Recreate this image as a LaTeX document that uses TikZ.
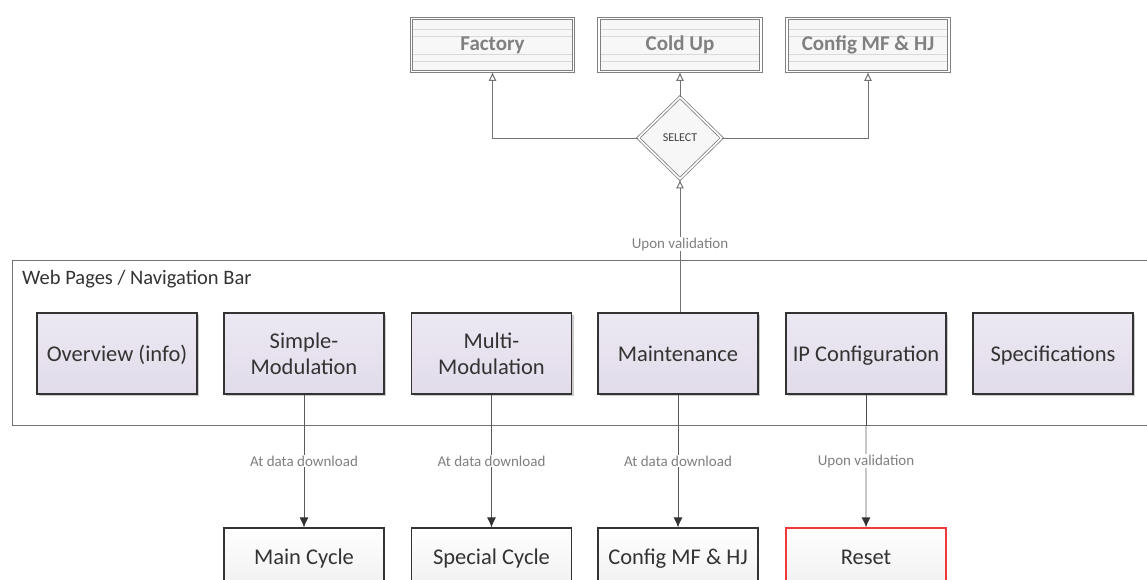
\documentclass[tikz,border=0pt]{standalone}
\usepackage{fontspec}
\setmainfont{Carlito}
\usetikzlibrary{arrows.meta,shapes.geometric,shadows,calc}
\definecolor{lav}{HTML}{E2DCEA}
\definecolor{lavtop}{HTML}{ECE8F2}
\definecolor{resetred}{HTML}{F03A3A}
\begin{document}
\begin{tikzpicture}[x=1pt,y=-1pt,
  pagebox/.style={draw=black!80, line width=1.1pt, top color=lavtop, bottom color=lav,
    minimum width=160pt, minimum height=81pt, align=center, inner sep=2pt,
    font=\fontsize{22.5}{26}\selectfont, text=black!80,
    drop shadow={shadow xshift=2pt, shadow yshift=-2pt, opacity=0.2, fill=black}},
  oneline/.style={text height=17pt, text depth=2pt},
  resbox/.style={draw=black!80, line width=1.1pt, top color=white, bottom color=black!6,
    minimum width=160pt, minimum height=62pt, align=center,
    font=\fontsize{22.5}{26}\selectfont, text=black!80, text height=15pt, text depth=5pt},
  ghostbox/.style={draw=black!50, line width=0.8pt, double=white, double distance=1.6pt, fill=black!3,
    minimum width=162pt, minimum height=53pt, font=\fontsize{21}{24}\selectfont\bfseries,
    text=black!50,
    path picture={
      \foreach \f in {0.2,0.33,0.67,0.8}{
        \draw[black!15, line width=0.8pt]
          ($(path picture bounding box.north west)!\f!(path picture bounding box.south west)$)
          -- ($(path picture bounding box.north east)!\f!(path picture bounding box.south east)$);}
    }},
  lbl/.style={fill=white, inner sep=1pt, font=\fontsize{15}{17}\selectfont, text=black!50},
  ghostarr/.style={draw=black!55, line width=1pt, -{Latex[length=9pt,width=8pt,open,black!55]}},
  darkarr/.style={draw=black!65, line width=1pt, -{Latex[length=10pt,width=9pt,black!80]}},
]
\useasboundingbox (0,0) rectangle (1147,579);

% container
\node (nav) [draw=black!55, line width=0.9pt, anchor=north west,
  minimum width=1145pt, minimum height=165pt, inner sep=0pt] at (12,260) {};
\node (navlbl) [anchor=west, font=\fontsize{20.5}{24}\selectfont, text=black!80, inner sep=0pt]
  at (22,279) {Web Pages / Navigation Bar};

% page boxes
\node (ov) [pagebox, oneline] at (117,353.5) {Overview (info)};
\node (sm) [pagebox] at (304,353.5) {Simple-\\Modulation};
\node (mm) [pagebox] at (491.5,353.5) {Multi-\\Modulation};
\node (mt) [pagebox, oneline] at (678,353.5) {Maintenance};
\node (ip) [pagebox, oneline] at (866,353.5) {IP Configuration};
\node (sp) [pagebox, oneline] at (1053,353.5) {Specifications};

% result boxes
\node (mc) [resbox] at (304,559) {Main Cycle};
\node (sc) [resbox] at (491.5,559) {Special Cycle};
\node (cf) [resbox] at (678,559) {Config MF \& HJ};
\node (rs) [resbox, draw=resetred] at (866,559) {Reset};

% ghost top
\node (fac) [ghostbox] at (492.5,45) {Factory};
\node (cold) [ghostbox] at (680,45) {Cold Up};
\node (cmf) [ghostbox] at (868,45) {Config MF \& HJ};
\node (sel) [diamond, draw=black!50, line width=0.8pt, double=white, double distance=1.6pt, fill=black!3,
  minimum width=84pt, minimum height=82pt, inner sep=0pt,
  font=\fontsize{12}{14}\selectfont, text=black!75] at (680,138) {SELECT};

% connectors top
\draw[ghostarr] (mt.north -| sel.south) -- (sel.south);
\draw[ghostarr] (sel.north) -- (cold.south);
\draw[ghostarr] (sel.west) -| (fac.south);
\draw[ghostarr] (sel.east) -| (cmf.south);
\node (uv1) [lbl] at (680,244) {Upon validation};

% connectors bottom
\draw[darkarr] (sm.south) -- (mc.north);
\draw[darkarr] (mm.south) -- (sc.north);
\draw[darkarr] (mt.south) -- (cf.north);
\coordinate (ipcut) at (ip.south |- nav.south);
\draw[black!70, line width=1pt] (ip.south) -- (ipcut);
\draw[draw=black!22, line width=1.2pt, -{Latex[length=10pt,width=9pt,black!80]}] (ipcut) -- (rs.north);
\node (l1) [lbl] at (304,461) {At data download};
\node (l2) [lbl] at (491.5,461) {At data download};
\node (l3) [lbl] at (678,461) {At data download};
\node (l4) [lbl] at (866,461) {Upon validation};
\end{tikzpicture}
\end{document}
